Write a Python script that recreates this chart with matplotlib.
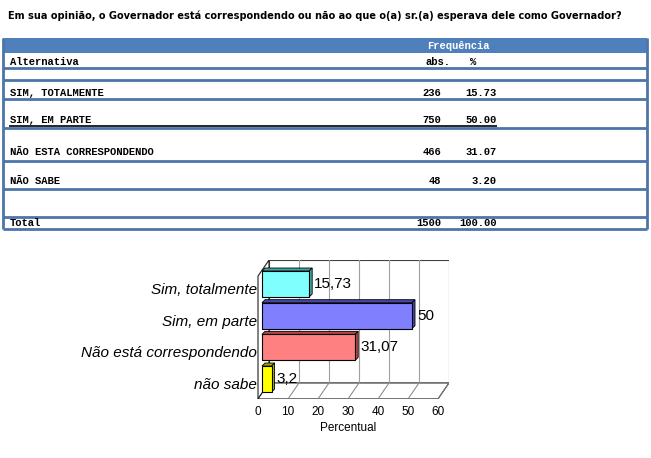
import matplotlib
matplotlib.use('Agg')
import matplotlib.pyplot as plt
from matplotlib.patches import Polygon, Rectangle

# ---- data ----
titulo = 'Em sua opinião, o Governador está correspondendo ou não ao que o(a) sr.(a) esperava dele como Governador?'
alternativas = ['SIM, TOTALMENTE', 'SIM, EM PARTE', 'NÃO ESTA CORRESPONDENDO', 'NÃO SABE']
freq_abs = [236, 750, 466, 48]
freq_pct = [15.73, 50.00, 31.07, 3.20]
total_abs = 1500
total_pct = 100.00

categorias = ['Sim, totalmente', 'Sim, em parte', 'Não está correspondendo', 'não sabe']
percentual = [15.73, 50, 31.07, 3.2]
rotulos = ['15,73', '50', '31,07', '3,2']
cores = ['#80FFFF', '#8080FF', '#FF8080', '#FFFF00']
cores_lado = ['#3FA6A6', '#4646B0', '#B04848', '#A8A800']
ticks_x = [0, 10, 20, 30, 40, 50, 60]

W, H = 651, 458
fig = plt.figure(figsize=(W / 100, H / 100), dpi=100)

# ---- table (pixel coordinates) ----
tab = fig.add_axes([0, 0, 1, 1])
tab.set_xlim(0, W)
tab.set_ylim(H, 0)
tab.axis('off')

azul = '#4F80BB'
linha = '#4C76A9'
tab.add_patch(Rectangle((3, 38), 644, 15, facecolor=azul, edgecolor='none'))
tab.hlines([68, 80, 99, 128, 161, 189, 217, 229], 3, 647, colors=linha, lw=2)
tab.vlines([3, 647], 38, 229, colors=linha, lw=2)
tab.hlines(125.5, 9, 497, colors='black', lw=1.2)

mono = dict(family='Liberation Mono', weight='bold', fontsize=7.6, va='baseline')
tab.text(427, 49, 'Frequência', color='white', **mono)
tab.text(10, 65, 'Alternativa', **mono)
tab.text(426, 65, 'abs.', **mono)
tab.text(470, 65, '%', **mono)

linhas_base = [96, 123, 155, 184]
for nome, a, p, y in zip(alternativas, freq_abs, freq_pct, linhas_base):
    tab.text(10, y, nome, **mono)
    tab.text(441, y, str(a), ha='right', **mono)
    tab.text(497, y, f'{p:.2f}', ha='right', **mono)
tab.text(10, 226, 'Total', **mono)
tab.text(441, 226, str(total_abs), ha='right', **mono)
tab.text(497, 226, f'{total_pct:.2f}', ha='right', **mono)

# ---- 3D-like bar chart ----
x0_px, px_unit = 262, 3.0          # bar plane: value 0 at 262 px, 3 px per unit
y0_px, py_unit = 284, 31.67        # first category centre, px per category
left_px, right_px, top_px, bot_px = 257, 449, 260, 399
ax = fig.add_axes([left_px / W, 1 - bot_px / H, (right_px - left_px) / W, (bot_px - top_px) / H])
ax.set_xlim((left_px - x0_px) / px_unit, (right_px - x0_px) / px_unit)
ax.set_ylim((bot_px - y0_px) / py_unit, (top_px - y0_px) / py_unit)
ax.axis('off')

PX = 1 / px_unit
PY = 1 / py_unit
fdx, fdy = -4 * PX, 6 * PY     # front plane offset
bdx, bdy = 7 * PX, -10 * PY    # back plane offset
topo, piso = -0.44, 3.44
xmax = ticks_x[-1]

def fr(x, y):
    return (x + fdx, y + fdy)

def bk(x, y):
    return (x + bdx, y + bdy)

ax.add_patch(Polygon([bk(0, topo), bk(xmax, topo), bk(xmax, piso), bk(0, piso)],
                     closed=True, facecolor='white', edgecolor='#404040', lw=0.8, zorder=1))
ax.add_patch(Polygon([fr(0, topo), bk(0, topo), bk(0, piso), fr(0, piso)],
                     closed=True, facecolor='white', edgecolor='#202020', lw=0.8, zorder=1))
ax.add_patch(Polygon([fr(0, piso), fr(xmax, piso), bk(xmax, piso), bk(0, piso)],
                     closed=True, facecolor='white', edgecolor='#202020', lw=0.8, zorder=1))
for t in ticks_x[1:-1]:
    ax.plot([bk(t, topo)[0], bk(t, piso)[0]], [bk(t, topo)[1], bk(t, piso)[1]],
            color='#A0A0A0', lw=0.8, zorder=1.5)
for t in ticks_x[1:]:
    ax.plot([fr(t, piso)[0], bk(t, piso)[0]], [fr(t, piso)[1], bk(t, piso)[1]],
            color='#808080', lw=0.7, zorder=1.5)

ypos = list(range(len(categorias)))
h = 0.82
ax.barh(ypos, percentual, height=h, color=cores, edgecolor='black', lw=0.8, zorder=3)
ddx, ddy = 3 * PX, -3 * PY
for y, v, cl in zip(ypos, percentual, cores_lado):
    yt, yb = y - h / 2, y + h / 2
    ax.add_patch(Polygon([(0, yt), (v, yt), (v + ddx, yt + ddy), (ddx, yt + ddy)],
                         closed=True, facecolor=cl, edgecolor='black', lw=0.6, zorder=2.5))
    ax.add_patch(Polygon([(v, yt), (v, yb), (v + ddx, yb + ddy), (v + ddx, yt + ddy)],
                         closed=True, facecolor=cl, edgecolor='black', lw=0.6, zorder=2.5))

for y, v, r, c in zip(ypos, percentual, rotulos, categorias):
    ax.text(v + ddx + 2 * PX, y, r, ha='left', va='center', fontsize=11,
            family='Liberation Sans', zorder=4, clip_on=False)
    ax.text(fr(0, 0)[0] - 1 * PX, y + fdy, c, ha='right', va='center', fontsize=11,
            family='Liberation Sans', style='italic', clip_on=False)

for t in ticks_x:
    fx, fy = fr(t, piso)
    ax.text(fx, fy + 13 * PY, str(t), ha='center', va='center', fontsize=8.5,
            family='Liberation Sans', clip_on=False)
ax.text(fr(xmax / 2, piso)[0], fr(0, piso)[1] + 29 * PY, 'Percentual', ha='center',
        va='center', fontsize=8.5, family='Liberation Sans', clip_on=False)

# ---- title, fitted to the original width ----
tt = fig.text(8 / W, 1 - 16 / H, titulo, fontsize=10, weight='bold', va='center',
              family=['Liberation Sans Narrow', 'DejaVu Sans'], stretch='condensed')
fig.canvas.draw()
largura = tt.get_window_extent().width
tt.set_fontsize(10 * 609 / largura)

fig.savefig('out.png', dpi=100)
